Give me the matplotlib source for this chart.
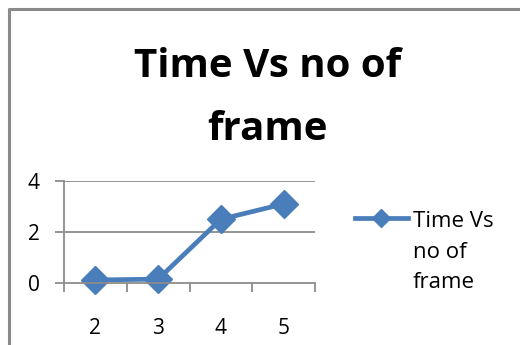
import matplotlib
matplotlib.use("Agg")
import matplotlib.pyplot as plt
from matplotlib.lines import Line2D

frames = ["2", "3", "4", "5"]
times = [0.12, 0.15, 2.5, 3.1]
y_ticks = [0, 2, 4]
title_lines = ["Time Vs no of", "frame"]
series_label = "Time Vs\nno of\nframe"

W, H = 520, 345
fig = plt.figure(figsize=(W / 100, H / 100), dpi=100)
fig.patch.set_facecolor("white")

def fx(px):
    return px / W

def fy(py):
    return 1 - py / H

# chart border (top and left edges visible)
fig.add_artist(Line2D([fx(9), fx(9), fx(W + 5)], [fy(H + 5), fy(9), fy(9)],
                      color="#8a8a8a", lw=2.2, transform=fig.transFigure))

ax = fig.add_axes([fx(64), fy(283), fx(315) - fx(64), fy(181) - fy(283)])
blue = "#4a7ebb"
grid_c = "#8c8c8c"

xs = [i + 0.5 for i in range(len(frames))]
ax.plot(xs, times, color=blue, lw=3.4, marker="D", markersize=14,
        markeredgecolor=blue, markerfacecolor=blue, solid_capstyle="round",
        clip_on=False)

ax.set_xlim(0, len(frames))
ax.set_ylim(0, 4)
ax.set_yticks(y_ticks)
ax.set_yticklabels([str(v) for v in y_ticks])
ax.set_xticks(range(len(frames) + 1))
ax.set_xticklabels([])
ax.set_xticks(xs, minor=True)
ax.set_xticklabels(frames, minor=True)

for y in y_ticks[1:]:
    ax.axhline(y, color=grid_c, lw=1.3, zorder=0)

for side in ["top", "right"]:
    ax.spines[side].set_visible(False)
ax.spines["left"].set_color(grid_c)
ax.spines["bottom"].set_color(grid_c)
ax.spines["left"].set_linewidth(1.3)
ax.spines["bottom"].set_linewidth(1.3)

ax.tick_params(axis="y", length=6.5, width=1.3, color=grid_c, labelsize=15, pad=11)
ax.tick_params(axis="x", which="major", length=6.5, width=1.3, color=grid_c)
ax.tick_params(axis="x", which="minor", length=0, labelsize=15, pad=25)
for lab in ax.get_yticklabels() + ax.get_xticklabels(minor=True):
    lab.set_family("Open Sans")

for line, base in zip(title_lines, [77, 140]):
    fig.text(fx(268), fy(base), line, ha="center", va="baseline",
             fontsize=29, fontweight="bold", family="Open Sans", color="black")

# legend
fig.add_artist(Line2D([fx(355), fx(408)], [fy(218), fy(218)], color=blue, lw=3.4,
                      transform=fig.transFigure))
fig.add_artist(Line2D([fx(381)], [fy(218)], color=blue, marker="D", markersize=9,
                      transform=fig.transFigure))
fig.text(fx(413), fy(252), series_label, ha="left", va="center",
         fontsize=16, family="Open Sans", linespacing=1.6)

fig.savefig("out.png", dpi=100)
